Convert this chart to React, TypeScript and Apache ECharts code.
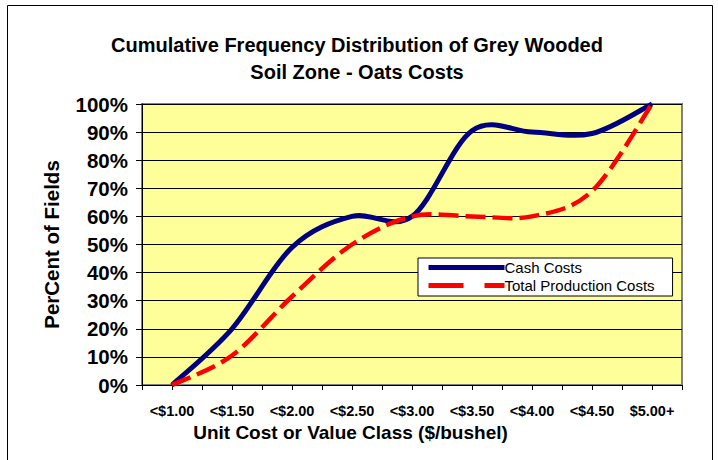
import React, { useEffect, useRef } from "react";
import * as echarts from "echarts";

const categories = ["<$1.00", "<$1.50", "<$2.00", "<$2.50", "<$3.00", "<$3.50", "<$4.00", "<$4.50", "$5.00+"];
const cashCosts = [0, 20, 49, 60, 60, 90.5, 90, 89.5, 100];
const totalCosts = [0, 10.5, 31.5, 50, 60, 60, 60, 69, 100];
const yTicks = [0, 10, 20, 30, 40, 50, 60, 70, 80, 90, 100];

const FONT = "'Liberation Sans', Arial, Helvetica, sans-serif";

const toPoints = (vals: number[]) => vals.map((v, i) => [2 * i + 1, v]);

// Excel-style smoothed line: cubic Bezier through the data points (Catmull-Rom tangents),
// positioned with the chart's own axis scales via api.coord.
const smoothPath = (vals: number[], api: any) => {
  const pts = toPoints(vals).map((p) => api.coord(p));
  const n = pts.length;
  let d = `M${pts[0][0]},${pts[0][1]}`;
  for (let i = 0; i < n - 1; i++) {
    const p0 = pts[Math.max(i - 1, 0)];
    const p1 = pts[i];
    const p2 = pts[i + 1];
    const p3 = pts[Math.min(i + 2, n - 1)];
    const c1x = p1[0] + (p2[0] - p0[0]) / 6;
    const c1y = p1[1] + (p2[1] - p0[1]) / 6;
    const c2x = p2[0] - (p3[0] - p1[0]) / 6;
    const c2y = p2[1] - (p3[1] - p1[1]) / 6;
    d += ` C${c1x},${c1y} ${c2x},${c2y} ${p2[0]},${p2[1]}`;
  }
  return d;
};

export default function App() {
  const ref = useRef<HTMLDivElement>(null);
  useEffect(() => {
    if (!ref.current) return;
    const chart = echarts.init(ref.current, undefined, { renderer: "svg" });
    const curve = (vals: number[], stroke: string, lineWidth: number, lineDash: number[] | null) =>
      (params: any, api: any) =>
        params.dataIndex === 0
          ? {
              type: "path",
              shape: { pathData: smoothPath(vals, api) },
              style: { fill: "none", stroke, lineWidth, lineDash, lineCap: "butt", lineJoin: "round" },
            }
          : null;
    chart.setOption({
      animation: false,
      backgroundColor: "#ffffff",
      textStyle: { fontFamily: FONT },
      title: {
        text: "Cumulative Frequency Distribution of Grey Wooded\nSoil Zone - Oats Costs",
        left: 352,
        top: 26,
        textAlign: "center",
        textStyle: { fontFamily: FONT, fontSize: 20, fontWeight: "bold", color: "#000", lineHeight: 27 },
      },
      legend: {
        orient: "vertical",
        left: 418,
        top: 258,
        itemWidth: 76,
        itemHeight: 16,
        itemGap: 3,
        padding: [2, 18, 3, 8],
        backgroundColor: "#ffffff",
        borderColor: "#000000",
        borderWidth: 1,
        borderRadius: 0,
        itemStyle: { opacity: 0 },
        lineStyle: { opacity: 1, width: 5 },
        textStyle: { fontFamily: FONT, fontSize: 15, color: "#000", padding: [0, 0, 0, -5] },
        data: [
          { name: "Cash Costs" },
          { name: "Total Production Costs", lineStyle: { type: [35, 21], width: 5, opacity: 1 } },
        ],
      },
      grid: {
        left: 142,
        top: 104,
        right: 36,
        bottom: 75,
        show: true,
        backgroundColor: "#FFFF99",
        borderColor: "#808080",
        borderWidth: 2,
      },
      xAxis: {
        type: "value",
        min: 0,
        max: 18,
        interval: 1,
        name: "Unit Cost or Value Class ($/bushel)",
        nameLocation: "middle",
        nameGap: 36,
        nameTextStyle: { fontFamily: FONT, fontSize: 19, fontWeight: "bold", color: "#000", padding: [0, 123, 0, 0] },
        axisLine: { show: true, lineStyle: { color: "#000", width: 1 } },
        axisTick: { show: true, length: 5, lineStyle: { color: "#000" } },
        splitLine: { show: false },
        axisLabel: {
          margin: 18,
          fontFamily: FONT,
          fontSize: 14.5,
          fontWeight: "bold",
          color: "#000",
          formatter: (v: number) => (v % 2 === 1 ? categories[(v - 1) / 2] : ""),
        },
      },
      yAxis: {
        type: "value",
        min: 0,
        max: 100,
        interval: 10,
        name: "PerCent of Fields",
        nameLocation: "middle",
        nameGap: 80,
        nameTextStyle: { fontFamily: FONT, fontSize: 20.5, fontWeight: "bold", color: "#000" },
        axisLine: { show: true, lineStyle: { color: "#000", width: 1 } },
        axisTick: { show: true, length: 6, lineStyle: { color: "#000" } },
        splitLine: { show: true, lineStyle: { color: "#000", width: 1 } },
        axisLabel: {
          margin: 14,
          fontFamily: FONT,
          fontSize: 20.5,
          fontWeight: "bold",
          color: "#000",
          formatter: (v: number) => (yTicks.includes(v) ? v + "%" : ""),
        },
      },
      graphic: [
        {
          type: "rect",
          shape: { x: 7.5, y: 5.5, width: 705, height: 470 },
          style: { fill: "none", stroke: "#000", lineWidth: 1 },
          silent: true,
          z: 100,
        },
      ],
      series: [
        {
          name: "Cash Costs",
          type: "line",
          data: toPoints(cashCosts),
          symbol: "none",
          lineStyle: { color: "#000080", width: 5, opacity: 0 },
          itemStyle: { color: "#000080" },
          z: 1,
        },
        {
          name: "Total Production Costs",
          type: "line",
          data: toPoints(totalCosts),
          symbol: "none",
          lineStyle: { color: "#FF0000", width: 4.5, type: [20, 7], opacity: 0 },
          itemStyle: { color: "#FF0000" },
          z: 1,
        },
        {
          name: "Cash Costs curve",
          type: "custom",
          data: toPoints(cashCosts),
          encode: { x: 0, y: 1 },
          renderItem: curve(cashCosts, "#000080", 5, null),
          z: 3,
        },
        {
          name: "Total Production Costs curve",
          type: "custom",
          data: toPoints(totalCosts),
          encode: { x: 0, y: 1 },
          renderItem: curve(totalCosts, "#FF0000", 4.5, [20, 7]),
          z: 4,
        },
      ],
    });
    return () => chart.dispose();
  }, []);
  return <div ref={ref} style={{ position: "fixed", left: 0, top: 0, width: 718, height: 460 }} />;
}
